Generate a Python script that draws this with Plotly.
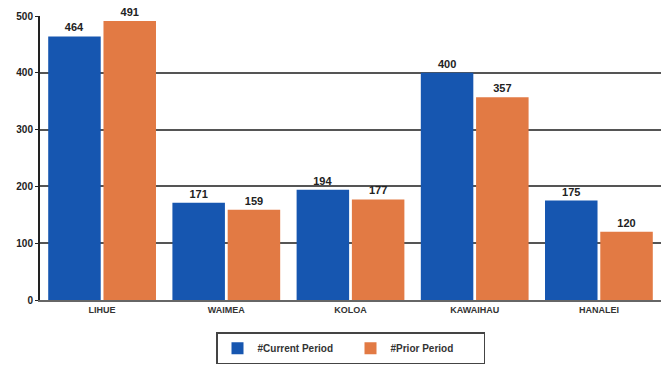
import plotly.graph_objects as go

districts = ["LIHUE", "WAIMEA", "KOLOA", "KAWAIHAU", "HANALEI"]
current_period = [464, 171, 194, 400, 175]
prior_period = [491, 159, 177, 357, 120]
y_ticks = [0, 100, 200, 300, 400, 500]

blue = "#1656b0"
orange = "#e27a44"
font_family = "Liberation Sans, Arial, sans-serif"

fig = go.Figure()
fig.add_trace(go.Bar(
    x=districts, y=current_period, name="<b>#Current Period</b>",
    marker=dict(color=blue, line=dict(width=0)),
    text=[f"<b>{v}</b>" for v in current_period], textposition="outside",
    textfont=dict(size=11, color="#222222", family=font_family),
    cliponaxis=False,
))
fig.add_trace(go.Bar(
    x=districts, y=prior_period, name="<b>#Prior Period</b>",
    marker=dict(color=orange, line=dict(width=0)),
    text=[f"<b>{v}</b>" for v in prior_period], textposition="outside",
    textfont=dict(size=11, color="#222222", family=font_family),
    cliponaxis=False,
))

fig.update_layout(
    width=663, height=366,
    margin=dict(l=40, r=2, t=16, b=63),
    paper_bgcolor="white", plot_bgcolor="white",
    barmode="group", bargap=0.11, bargroupgap=0.05,
    font=dict(family=font_family, color="#222222"),
    showlegend=True,
    legend=dict(
        orientation="h", x=0.5, xanchor="center", y=-0.17, yanchor="middle",
        bordercolor="#444444", borderwidth=1.5,
        font=dict(size=10, family=font_family, color="#333333"),
        itemsizing="constant", traceorder="normal",
        entrywidth=88, entrywidthmode="pixels",
    ),
    xaxis=dict(
        showline=True, linecolor="#666666", linewidth=1.5,
        tickfont=dict(size=9, family=font_family, color="#333333"),
        ticks="", showgrid=False,
        tickvals=districts, ticktext=[f"<b>{d}</b>" for d in districts],
    ),
    yaxis=dict(
        range=[0, 500], tickvals=y_ticks,
        ticktext=[f"<b>{t}</b>" for t in y_ticks],
        tickfont=dict(size=10, family=font_family, color="#222222"),
        showgrid=True, gridcolor="#555555", gridwidth=1.5,
        showline=True, linecolor="#222222", linewidth=2,
        ticks="outside", ticklen=3, tickcolor="#222222",
        zeroline=False,
    ),
)

fig.write_html("out.html")
